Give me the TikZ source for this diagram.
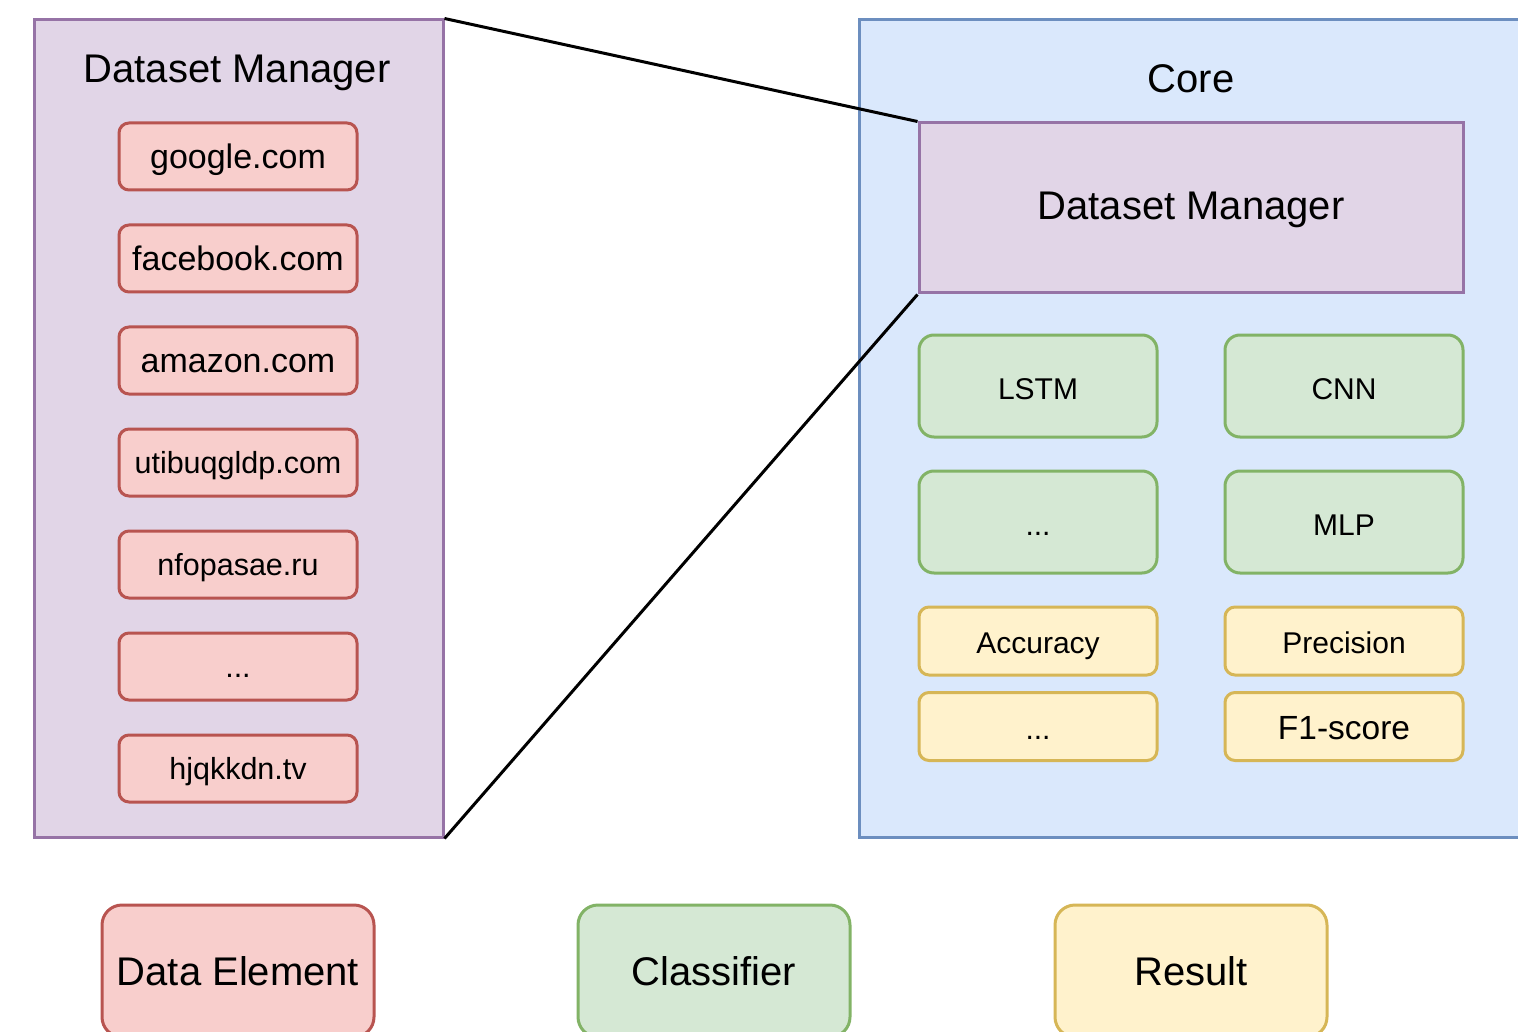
\documentclass[tikz,border=0pt]{standalone}
\usepackage{fontspec}
\setmainfont{Liberation Sans}
\definecolor{purpleFill}{HTML}{E1D5E7}
\definecolor{purpleLine}{HTML}{9673A6}
\definecolor{blueFill}{HTML}{DAE8FC}
\definecolor{blueLine}{HTML}{6C8EBF}
\definecolor{redFill}{HTML}{F8CECC}
\definecolor{redLine}{HTML}{B85450}
\definecolor{greenFill}{HTML}{D5E8D4}
\definecolor{greenLine}{HTML}{82B366}
\definecolor{yellowFill}{HTML}{FFF2CC}
\definecolor{yellowLine}{HTML}{D6B656}
\tikzset{
  container/.style={draw, line width=3pt, inner sep=0pt},
  databox/.style={draw=redLine, fill=redFill, line width=3pt, rounded corners=10pt,
    minimum width=238pt, minimum height=67pt, inner sep=0pt, text depth=0pt},
  bigdata/.style={databox, font=\fontsize{34}{40}\selectfont, text height=23.8pt},
  smalldata/.style={databox, font=\fontsize{30.5}{36}\selectfont, text height=21.3pt},
  clsbox/.style={draw=greenLine, fill=greenFill, line width=3pt, rounded corners=15pt,
    minimum width=238pt, minimum height=102pt, inner sep=0pt,
    font=\fontsize{30}{36}\selectfont, text height=26pt, text depth=0pt},
  resbox/.style={draw=yellowLine, fill=yellowFill, line width=3pt, rounded corners=10pt,
    minimum width=238pt, minimum height=68pt, inner sep=0pt,
    font=\fontsize{30}{36}\selectfont, text height=25pt, text depth=0pt},
  legendbox/.style={line width=3pt, rounded corners=20pt,
    minimum width=272pt, minimum height=132pt, inner sep=0pt,
    font=\fontsize{40}{48}\selectfont},
  title/.style={font=\fontsize{40}{48}\selectfont, anchor=base, inner sep=0pt},
  zoomline/.style={draw=black, line width=3pt}
}
\begin{document}
\begin{tikzpicture}[x=1pt,y=-1pt]
\useasboundingbox (0,0) rectangle (1518,1032);
\clip (0,0) rectangle (1518,1032);

% expanded view of the dataset manager
\node[container, draw=purpleLine, fill=purpleFill, minimum width=409pt, minimum height=817pt]
  (dmouter) at (238.5,428.5) {};
\node[title] (dmtitle) at (237,83) {Dataset Manager};
\node[bigdata]   (d1) at (238,156.5) {google.com};
\node[bigdata]   (d2) at (238,258.5) {facebook.com};
\node[bigdata]   (d3) at (238,360.5) {amazon.com};
\node[smalldata] (d4) at (238,462.5) {utibuqgldp.com};
\node[smalldata] (d5) at (238,564.5) {nfopasae.ru};
\node[smalldata] (d6) at (238,666.5) {...};
\node[smalldata] (d7) at (238,768.5) {hjqkkdn.tv};

% core block
\node[container, draw=blueLine, fill=blueFill, minimum width=700pt, minimum height=817pt]
  (core) at (1209,428.5) {};
\node[title] (coretitle) at (1191,93) {Core};
\node[container, draw=purpleLine, fill=purpleFill, minimum width=544pt, minimum height=170pt,
  font=\fontsize{40}{48}\selectfont, text height=24pt, text depth=0pt]
  (dminner) at (1191,208) {Dataset Manager};

% classifiers
\node[clsbox] (lstm) at (1038,386) {LSTM};
\node[clsbox] (cnn)  at (1344,386) {CNN};
\node[clsbox] (cmore) at (1038,522) {...};
\node[clsbox] (mlp)  at (1344,522) {MLP};

% results
\node[resbox] (acc)  at (1038,641) {Accuracy};
\node[resbox] (prec) at (1344,641) {Precision};
\node[resbox] (rmore) at (1038,726.5) {...};
\node[resbox, font=\fontsize{33.5}{40}\selectfont, text height=26pt] (f1) at (1344,726.5) {F1-score};

% zoom lines
\draw[zoomline] (dmouter.north east) -- (dminner.north west);
\draw[zoomline] (dmouter.south east) -- (dminner.south west);

% legend
\node[legendbox, draw=redLine, fill=redFill]       (lgdata) at (238,971) {Data Element};
\node[legendbox, draw=greenLine, fill=greenFill]   (lgcls)  at (714,971) {Classifier};
\node[legendbox, draw=yellowLine, fill=yellowFill] (lgres)  at (1191,971) {Result};
\end{tikzpicture}
\end{document}
